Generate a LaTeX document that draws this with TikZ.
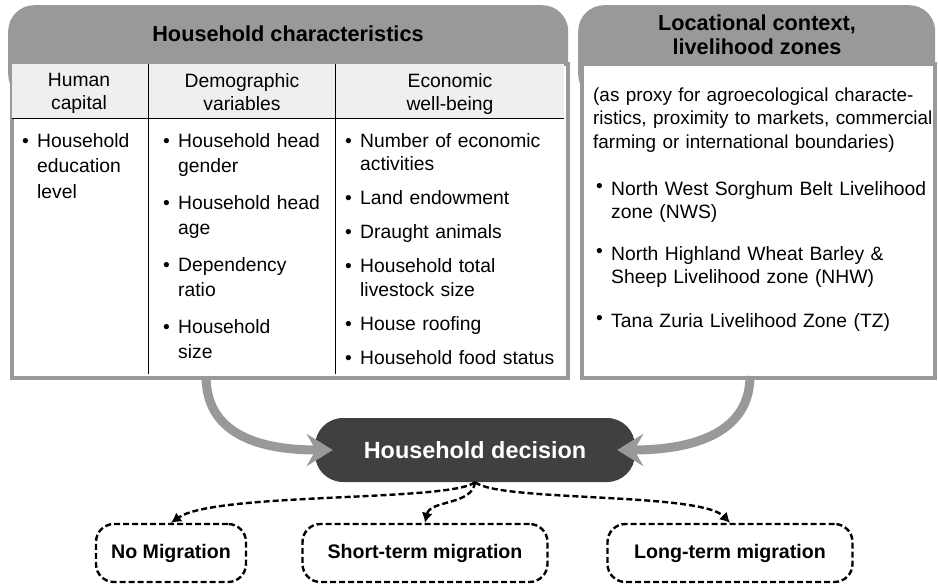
\documentclass[tikz,border=0pt]{standalone}
\usepackage{fontspec}
\setmainfont{Liberation Sans}
\usepackage{xcolor}
\usepackage{tikz}
\usetikzlibrary{shapes,arrows,positioning,calc,arrows.meta}

\definecolor{headgray}{HTML}{999999}
\definecolor{bandgray}{HTML}{EFEFEF}
\definecolor{darkbox}{HTML}{404040}

\newcommand{\titlefont}{\fontsize{21.7}{24}\selectfont\bfseries}
\newcommand{\colfont}{\fontsize{19.3}{23}\selectfont}
\newcommand{\bodyfont}{\fontsize{19.3}{25.5}\selectfont}
\newcommand{\listfont}{\fontsize{19.3}{23.5}\selectfont}
% bullet items with hanging indent; \bitem takes the gap before it
\newcommand{\fitem}[1]{\hangindent=15pt\hangafter=1\noindent\makebox[15pt][l]{\textbullet}#1}
\newcommand{\bitem}[2][0pt]{\par\vspace{#1}\fitem{#2}}
\newcommand{\rfitem}[1]{\hangindent=15pt\hangafter=1\noindent\makebox[15pt][l]{\raisebox{2.5pt}{\textbullet}}#1}
\newcommand{\ritem}[2][0pt]{\par\vspace{#1}\rfitem{#2}}

\begin{document}
\begin{tikzpicture}[x=1pt,y=-1pt,
    headbox/.style={fill=headgray, rounded corners=26pt, anchor=north west, inner sep=0pt},
    bodybox/.style={draw=headgray, line width=4pt, fill=white, anchor=north west, inner sep=0pt},
    colhead/.style={font=\colfont, align=center, anchor=north, inner sep=0pt},
    listcol/.style={anchor=base west, inner sep=0pt},
    migbox/.style={draw, line width=2.4pt, dash pattern=on 6pt off 3pt, rounded corners=18pt,
        minimum height=58pt, font=\fontsize{19.6}{24}\selectfont\bfseries},
    bigarrow/.style={draw=headgray, line width=9pt, -{Stealth[length=26pt,width=32pt,inset=9pt]}},
    dasharrow/.style={line width=2.4pt, dash pattern=on 6pt off 3pt, -{Latex[length=10pt,width=11pt]}}]
    \useasboundingbox (0,0) rectangle (938,584);

    % household characteristics panel
    \node[headbox, minimum width=560pt, minimum height=95pt] (hhhead) at (8,5) {};
    \node[bodybox, minimum width=556pt, minimum height=314pt] (hhbox) at (10,62) {};
    \fill[bandgray] (12,64) rectangle (564,118);
    \draw[line width=1pt] (12,118) -- (564,118);
    \draw[line width=1pt] (148,64) -- (148,374);
    \draw[line width=1pt] (335,64) -- (335,374);
    \node[font=\titlefont] (hhtitle) at (288,34) {Household characteristics};

    \node[colhead] (hchead) at (79,73) {Human\\capital};
    \node[colhead] (dvhead) at (242,73) {Demographic\\variables};
    \node[colhead] (ewhead) at (450,73) {Economic\\well-being};

    \node[listcol, font=\bodyfont, text width=130pt] (hclist) at (22,147) {%
        \fitem{Household\newline education\newline level}\par};
    \node[listcol, font=\bodyfont, text width=175pt] (dvlist) at (163,147) {%
        \fitem{Household head\newline gender}
        \bitem[11pt]{Household head\newline age}
        \bitem[11pt]{Dependency\newline ratio}
        \bitem[11pt]{Household\newline size}\par};
    \node[listcol, font=\listfont, text width=215pt] (ewlist) at (345,147) {%
        \fitem{Number of economic\newline activities}
        \bitem[10.5pt]{Land endowment}
        \bitem[10.5pt]{Draught animals}
        \bitem[10.5pt]{Household total\newline livestock size}
        \bitem[10.5pt]{House roofing}
        \bitem[10.5pt]{Household food status}\par};

    % locational context panel
    \node[headbox, minimum width=357pt, minimum height=95pt] (lchead) at (578,5) {};
    \node[bodybox, minimum width=353pt, minimum height=314pt] (lcbox) at (580,62) {};
    \node[font=\titlefont, align=center] (lctitle) at (757,35) {Locational context,\\livelihood zones};
    \node[listcol, font=\fontsize{18.9}{23.5}\selectfont, text width=360pt] (lcnote) at (593,101) {%
        (as proxy for agroecological characte-\newline ristics, proximity to markets, commercial\newline farming or international boundaries)\par};
    \node[listcol, font=\listfont, text width=360pt] (lclist) at (596,195) {%
        \rfitem{North West Sorghum Belt Livelihood\newline zone (NWS)}
        \ritem[18pt]{North Highland Wheat Barley \&\newline Sheep Livelihood zone (NHW)}
        \ritem[20pt]{Tana Zuria Livelihood Zone (TZ)}\par};

    % decision and outcomes
    \node[fill=darkbox, rounded corners=28pt, minimum width=320pt, minimum height=64pt,
        text=white, font=\fontsize{23.4}{28}\selectfont\bfseries] (dec) at (475,450) {Household decision};

    \node[migbox, minimum width=150pt] (nomig) at (171,553) {No Migration};
    \node[migbox, minimum width=245pt] (shortmig) at (425,553) {Short-term migration};
    \node[migbox, minimum width=245pt] (longmig) at (730,553) {Long-term migration};

    \coordinate (hhout) at (206,376);
    \coordinate (lcout) at (750,376);
    \draw[bigarrow] (hhout) .. controls (206,432) and (255,450) .. ([xshift=18pt]dec.west);
    \draw[bigarrow] (lcout) .. controls (750,432) and (695,450) .. ([xshift=-18pt]dec.east);

    \draw[dasharrow] (dec.south) .. controls (450,502) and (215,492) .. (nomig.north);
    \draw[dasharrow] (dec.south) .. controls (473,505) and (430,500) .. (shortmig.north);
    \draw[dasharrow] (dec.south) .. controls (500,502) and (700,492) .. (longmig.north);
\end{tikzpicture}
\end{document}
